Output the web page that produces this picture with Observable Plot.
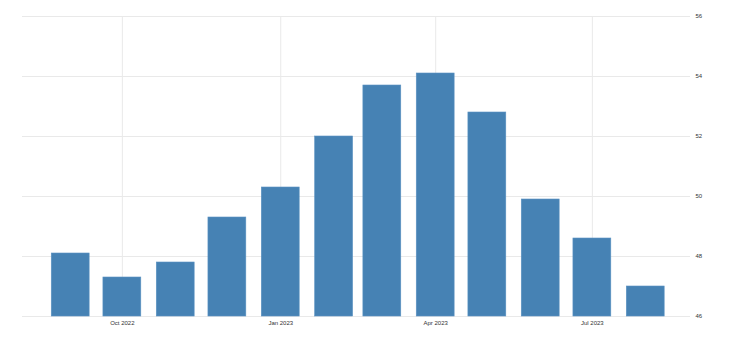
<!DOCTYPE html>
<html>
<head>
<meta charset="utf-8">
<script src="https://cdn.jsdelivr.net/npm/d3@7"></script>
<script src="https://cdn.jsdelivr.net/npm/@observablehq/plot@0.6"></script>
<style>
  html, body { margin: 0; padding: 0; background: #fff; }
  svg { display: block; }
</style>
</head>
<body>
<div id="chart"></div>
<script>
const months = ["2022-09-01","2022-10-01","2022-11-01","2022-12-01","2023-01-01","2023-02-01","2023-03-01","2023-04-01","2023-05-01","2023-06-01","2023-07-01","2023-08-01"];
const values = [48.1, 47.3, 47.8, 49.3, 50.3, 52.0, 53.7, 54.1, 52.8, 49.9, 48.6, 47.0];
const xTicks = ["2022-10-01","2023-01-01","2023-04-01","2023-07-01"];
const yTicks = [46, 48, 50, 52, 54, 56];
const xDomain = ["2022-08-04","2023-08-27"];

const parse = s => new Date(s + "T00:00:00Z");
const data = months.map((m, i) => ({date: parse(m), value: values[i]}));
const xt = xTicks.map(parse);
const base = yTicks[0];

const chart = Plot.plot({
  width: 740,
  height: 345,
  marginLeft: 22,
  marginRight: 50,
  marginTop: 16,
  marginBottom: 29,
  style: {fontFamily: "'Liberation Sans', Arial, sans-serif", fontSize: "6px", color: "#333", background: "#fff"},
  x: {type: "utc", domain: xDomain.map(parse)},
  y: {domain: [yTicks[0], yTicks[yTicks.length - 1]]},
  marks: [
    Plot.ruleX(xt, {stroke: "#e9e9e9", strokeWidth: 1}),
    Plot.ruleY(yTicks, {stroke: "#e9e9e9", strokeWidth: 1}),
    Plot.rect(data, {
      x1: d => d3.utcDay.offset(d.date, -11),
      x2: d => d3.utcDay.offset(d.date, 11),
      y1: () => base,
      y2: "value",
      fill: "#4682b4",
      stroke: "#5a92c2",
      strokeWidth: 0.6
    }),
    Plot.axisX(xt, {tickSize: 0, tickPadding: 4, tickFormat: d3.utcFormat("%b %Y"), label: null, fill: "#333"}),
    Plot.axisY(yTicks, {anchor: "right", tickSize: 0, tickPadding: 5, label: null, fill: "#333"})
  ]
});
document.getElementById("chart").appendChild(chart);
</script>
</body>
</html>
